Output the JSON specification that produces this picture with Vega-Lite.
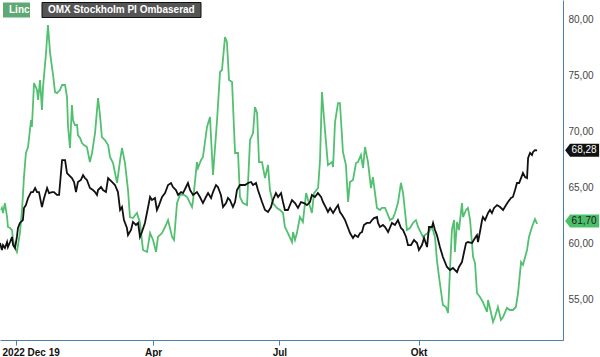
{
  "$schema": "https://vega.github.io/schema/vega-lite/v6.json",
  "width": 563,
  "height": 340,
  "autosize": {"type": "none"},
  "padding": {"left": 0, "top": 0, "right": 37, "bottom": 17},
  "background": "white",
  "config": {"view": {"stroke": null}, "font": "Liberation Sans"},
  "datasets": {
    "linc": [
      {"day":0.5,"v":62.95},{"day":0.9,"v":63.13},{"day":1.4,"v":62.68},{"day":2.3,"v":63.57},{"day":3.3,"v":62.32},{"day":3.7,"v":61.43},{"day":4.7,"v":61.34},{"day":5.6,"v":61.16},{"day":6.1,"v":60.27},{"day":7.0,"v":59.55},{"day":7.9,"v":59.2},{"day":8.4,"v":59.82},{"day":9.3,"v":60.89},{"day":10.3,"v":62.95},{"day":11.2,"v":65.89},{"day":12.1,"v":68.04},{"day":13.1,"v":68.57},{"day":14.5,"v":70.98},{"day":14.9,"v":70.36},{"day":15.9,"v":74.29},{"day":17.3,"v":73.66},{"day":17.8,"v":72.77},{"day":18.7,"v":74.55},{"day":19.6,"v":71.88},{"day":20.1,"v":73.93},{"day":21.5,"v":76.96},{"day":22.4,"v":79.46},{"day":23.4,"v":76.96},{"day":24.8,"v":75.0},{"day":25.7,"v":73.48},{"day":26.6,"v":73.39},{"day":28.0,"v":73.66},{"day":29.0,"v":74.11},{"day":30.4,"v":74.11},{"day":31.3,"v":73.04},{"day":31.8,"v":70.36},{"day":32.7,"v":68.48},{"day":33.6,"v":72.32},{"day":34.1,"v":70.98},{"day":35.0,"v":70.54},{"day":36.0,"v":70.54},{"day":36.4,"v":69.64},{"day":37.4,"v":69.38},{"day":38.3,"v":68.93},{"day":39.2,"v":68.75},{"day":40.6,"v":68.57},{"day":42.0,"v":67.23},{"day":43.0,"v":68.04},{"day":43.9,"v":69.2},{"day":44.4,"v":69.82},{"day":45.8,"v":72.95},{"day":46.7,"v":71.43},{"day":47.6,"v":69.46},{"day":49.0,"v":69.2},{"day":50.5,"v":68.75},{"day":51.4,"v":67.68},{"day":52.8,"v":67.14},{"day":54.7,"v":65.36},{"day":56.1,"v":67.41},{"day":57.0,"v":68.48},{"day":58.4,"v":67.14},{"day":59.8,"v":64.73},{"day":60.7,"v":62.32},{"day":62.1,"v":62.23},{"day":64.0,"v":62.68},{"day":65.4,"v":61.79},{"day":66.8,"v":59.38},{"day":68.7,"v":59.2},{"day":70.1,"v":60.89},{"day":71.5,"v":60.27},{"day":72.9,"v":59.2},{"day":73.8,"v":60.54},{"day":75.7,"v":60.89},{"day":77.1,"v":61.43},{"day":78.5,"v":62.05},{"day":80.4,"v":60.54},{"day":81.3,"v":60.27},{"day":82.7,"v":63.57},{"day":84.1,"v":64.29},{"day":86.0,"v":64.29},{"day":87.4,"v":64.11},{"day":88.8,"v":63.57},{"day":89.7,"v":63.21},{"day":90.2,"v":63.84},{"day":92.0,"v":67.23},{"day":92.5,"v":66.7},{"day":93.9,"v":67.41},{"day":94.8,"v":67.68},{"day":96.7,"v":70.36},{"day":98.1,"v":71.25},{"day":99.5,"v":66.07},{"day":101.4,"v":70.98},{"day":102.8,"v":75.27},{"day":103.7,"v":75.45},{"day":105.1,"v":78.39},{"day":106.0,"v":77.95},{"day":107.0,"v":74.55},{"day":108.4,"v":74.38},{"day":109.8,"v":68.04},{"day":111.2,"v":68.04},{"day":112.1,"v":64.11},{"day":113.5,"v":63.57},{"day":115.4,"v":63.39},{"day":116.8,"v":69.2},{"day":118.2,"v":69.82},{"day":119.1,"v":72.14},{"day":120.1,"v":71.61},{"day":121.0,"v":67.23},{"day":122.4,"v":67.23},{"day":123.8,"v":65.8},{"day":125.2,"v":66.96},{"day":126.1,"v":64.73},{"day":127.5,"v":63.57},{"day":129.4,"v":63.13},{"day":130.8,"v":62.95},{"day":132.2,"v":62.68},{"day":133.1,"v":61.43},{"day":134.5,"v":60.89},{"day":136.4,"v":60.09},{"day":136.9,"v":60.98},{"day":137.8,"v":60.27},{"day":138.7,"v":60.89},{"day":140.1,"v":62.32},{"day":141.5,"v":61.88},{"day":143.0,"v":64.46},{"day":143.9,"v":63.84},{"day":145.7,"v":62.68},{"day":146.7,"v":64.46},{"day":148.6,"v":64.91},{"day":149.5,"v":67.41},{"day":150.4,"v":73.48},{"day":151.8,"v":70.09},{"day":153.2,"v":66.96},{"day":155.1,"v":67.23},{"day":155.6,"v":66.79},{"day":156.5,"v":70.8},{"day":157.9,"v":72.5},{"day":158.8,"v":72.5},{"day":160.2,"v":68.13},{"day":161.6,"v":66.96},{"day":162.6,"v":63.66},{"day":163.5,"v":65.45},{"day":164.9,"v":65.63},{"day":166.3,"v":67.14},{"day":167.2,"v":67.23},{"day":168.6,"v":67.86},{"day":169.6,"v":66.7},{"day":170.5,"v":68.57},{"day":171.9,"v":67.23},{"day":173.3,"v":64.91},{"day":174.2,"v":65.89},{"day":176.1,"v":63.13},{"day":177.5,"v":62.95},{"day":178.4,"v":63.13},{"day":179.9,"v":63.13},{"day":182.2,"v":62.05},{"day":183.6,"v":62.23},{"day":184.5,"v":62.68},{"day":185.9,"v":63.57},{"day":187.3,"v":65.36},{"day":188.3,"v":64.46},{"day":190.1,"v":61.16},{"day":191.5,"v":61.34},{"day":192.9,"v":61.79},{"day":194.3,"v":62.05},{"day":195.3,"v":61.43},{"day":196.7,"v":60.89},{"day":197.6,"v":60.54},{"day":198.5,"v":60.71},{"day":199.9,"v":60.89},{"day":201.8,"v":61.43},{"day":203.2,"v":60.54},{"day":204.1,"v":58.48},{"day":205.1,"v":56.96},{"day":206.9,"v":54.46},{"day":208.3,"v":54.29},{"day":209.3,"v":53.75},{"day":210.2,"v":57.59},{"day":211.1,"v":61.16},{"day":212.1,"v":62.05},{"day":212.5,"v":59.2},{"day":213.5,"v":61.88},{"day":214.4,"v":61.16},{"day":215.8,"v":63.57},{"day":216.3,"v":62.32},{"day":217.7,"v":62.95},{"day":218.6,"v":63.13},{"day":219.6,"v":62.05},{"day":221.0,"v":58.75},{"day":221.9,"v":58.21},{"day":222.8,"v":55.54},{"day":224.2,"v":55.18},{"day":225.6,"v":54.73},{"day":227.5,"v":53.84},{"day":228.0,"v":54.91},{"day":229.4,"v":53.75},{"day":230.3,"v":52.95},{"day":231.2,"v":53.39},{"day":232.6,"v":54.29},{"day":234.0,"v":53.13},{"day":235.0,"v":53.39},{"day":236.8,"v":54.2},{"day":238.2,"v":54.02},{"day":239.6,"v":54.02},{"day":241.0,"v":54.29},{"day":242.0,"v":55.54},{"day":243.4,"v":58.3},{"day":244.3,"v":58.04},{"day":246.2,"v":59.38},{"day":247.1,"v":60.54},{"day":248.5,"v":61.43},{"day":249.9,"v":62.14},{"day":250.9,"v":61.7}
    ],
    "omx": [
      {"day":0.0,"v":60.0},{"day":0.9,"v":59.38},{"day":1.4,"v":59.82},{"day":2.3,"v":59.55},{"day":3.3,"v":60.09},{"day":3.7,"v":59.64},{"day":4.7,"v":60.09},{"day":5.6,"v":60.54},{"day":6.1,"v":59.82},{"day":7.0,"v":59.55},{"day":7.9,"v":60.54},{"day":8.4,"v":61.34},{"day":9.3,"v":61.79},{"day":10.7,"v":62.05},{"day":11.2,"v":63.13},{"day":12.1,"v":63.39},{"day":13.1,"v":64.02},{"day":14.5,"v":64.55},{"day":15.4,"v":64.55},{"day":16.4,"v":64.91},{"day":17.3,"v":64.55},{"day":18.2,"v":64.55},{"day":19.6,"v":63.21},{"day":20.6,"v":64.02},{"day":22.0,"v":64.91},{"day":22.9,"v":64.46},{"day":24.3,"v":64.55},{"day":25.2,"v":64.55},{"day":26.6,"v":64.29},{"day":27.6,"v":64.29},{"day":29.0,"v":67.41},{"day":30.4,"v":67.41},{"day":31.3,"v":66.25},{"day":32.2,"v":66.07},{"day":33.6,"v":65.8},{"day":34.6,"v":65.45},{"day":35.5,"v":64.55},{"day":36.4,"v":65.45},{"day":37.8,"v":65.63},{"day":38.8,"v":66.07},{"day":39.7,"v":65.8},{"day":40.6,"v":65.63},{"day":42.0,"v":64.91},{"day":43.4,"v":64.73},{"day":44.4,"v":64.55},{"day":45.3,"v":64.29},{"day":45.8,"v":64.73},{"day":47.2,"v":65.0},{"day":48.1,"v":64.73},{"day":49.5,"v":64.55},{"day":50.5,"v":65.8},{"day":52.3,"v":65.45},{"day":53.7,"v":65.18},{"day":55.1,"v":64.55},{"day":56.1,"v":62.95},{"day":57.0,"v":63.21},{"day":57.9,"v":62.05},{"day":59.3,"v":61.34},{"day":59.8,"v":60.71},{"day":61.2,"v":61.16},{"day":62.1,"v":61.88},{"day":63.5,"v":61.61},{"day":64.5,"v":61.79},{"day":65.4,"v":60.54},{"day":66.3,"v":60.98},{"day":67.7,"v":61.79},{"day":69.1,"v":63.13},{"day":70.1,"v":64.11},{"day":71.0,"v":63.84},{"day":72.4,"v":64.02},{"day":73.3,"v":62.95},{"day":74.3,"v":63.39},{"day":75.7,"v":64.11},{"day":77.1,"v":64.46},{"day":78.5,"v":65.18},{"day":79.9,"v":65.36},{"day":80.8,"v":65.0},{"day":82.2,"v":64.73},{"day":83.2,"v":64.29},{"day":84.6,"v":64.55},{"day":85.5,"v":64.46},{"day":86.9,"v":65.0},{"day":87.8,"v":65.36},{"day":88.8,"v":64.73},{"day":90.2,"v":64.29},{"day":92.0,"v":64.55},{"day":93.4,"v":64.11},{"day":94.8,"v":63.57},{"day":96.2,"v":64.11},{"day":97.2,"v":64.46},{"day":98.6,"v":64.02},{"day":99.5,"v":64.55},{"day":100.9,"v":65.18},{"day":101.8,"v":65.0},{"day":103.2,"v":64.29},{"day":104.2,"v":63.21},{"day":105.6,"v":63.57},{"day":106.5,"v":64.02},{"day":107.4,"v":63.84},{"day":108.8,"v":63.21},{"day":109.8,"v":63.66},{"day":110.7,"v":64.73},{"day":112.1,"v":65.18},{"day":113.5,"v":65.18},{"day":114.5,"v":65.18},{"day":115.9,"v":65.36},{"day":117.3,"v":65.45},{"day":118.2,"v":65.18},{"day":119.6,"v":65.36},{"day":120.5,"v":64.73},{"day":122.4,"v":63.66},{"day":123.8,"v":62.95},{"day":125.2,"v":62.77},{"day":126.6,"v":63.21},{"day":127.5,"v":63.84},{"day":128.9,"v":64.46},{"day":129.9,"v":64.11},{"day":131.3,"v":64.46},{"day":132.2,"v":63.66},{"day":133.1,"v":62.95},{"day":134.5,"v":62.95},{"day":136.4,"v":63.84},{"day":137.8,"v":63.57},{"day":139.2,"v":63.13},{"day":140.6,"v":63.66},{"day":142.0,"v":63.57},{"day":143.4,"v":63.39},{"day":144.8,"v":63.66},{"day":145.7,"v":64.29},{"day":147.1,"v":64.11},{"day":148.5,"v":64.46},{"day":150.0,"v":64.11},{"day":150.9,"v":63.66},{"day":152.3,"v":63.13},{"day":153.2,"v":62.77},{"day":154.2,"v":63.13},{"day":155.6,"v":62.68},{"day":157.0,"v":63.13},{"day":157.9,"v":63.39},{"day":158.8,"v":62.77},{"day":159.8,"v":62.5},{"day":161.2,"v":62.05},{"day":162.6,"v":61.34},{"day":163.5,"v":60.89},{"day":164.9,"v":60.45},{"day":165.8,"v":60.71},{"day":167.2,"v":60.54},{"day":168.2,"v":60.89},{"day":169.1,"v":60.98},{"day":170.0,"v":61.61},{"day":171.4,"v":61.79},{"day":172.8,"v":61.79},{"day":173.8,"v":62.05},{"day":174.7,"v":62.23},{"day":176.1,"v":62.32},{"day":176.6,"v":61.79},{"day":177.5,"v":61.43},{"day":178.9,"v":61.61},{"day":179.9,"v":61.43},{"day":181.3,"v":60.98},{"day":183.1,"v":61.79},{"day":184.5,"v":61.61},{"day":185.9,"v":62.05},{"day":187.3,"v":61.34},{"day":188.3,"v":61.16},{"day":189.7,"v":60.54},{"day":190.6,"v":59.82},{"day":192.0,"v":59.82},{"day":193.4,"v":60.27},{"day":194.8,"v":60.0},{"day":195.7,"v":59.38},{"day":197.1,"v":59.82},{"day":198.1,"v":60.45},{"day":199.5,"v":59.64},{"day":200.4,"v":61.43},{"day":201.8,"v":61.43},{"day":202.3,"v":61.79},{"day":203.2,"v":61.16},{"day":204.1,"v":60.71},{"day":205.5,"v":59.64},{"day":206.9,"v":58.75},{"day":208.8,"v":57.86},{"day":210.2,"v":57.59},{"day":211.6,"v":57.77},{"day":213.5,"v":57.41},{"day":214.4,"v":57.86},{"day":215.8,"v":58.3},{"day":216.8,"v":59.2},{"day":217.7,"v":60.0},{"day":218.6,"v":60.09},{"day":220.5,"v":60.0},{"day":221.9,"v":60.45},{"day":222.8,"v":60.71},{"day":223.3,"v":60.09},{"day":224.2,"v":60.98},{"day":225.2,"v":62.05},{"day":225.6,"v":62.32},{"day":226.6,"v":62.05},{"day":228.0,"v":62.68},{"day":228.9,"v":62.95},{"day":229.8,"v":62.68},{"day":230.8,"v":63.13},{"day":232.2,"v":63.39},{"day":233.6,"v":63.21},{"day":235.0,"v":62.95},{"day":236.4,"v":63.39},{"day":237.3,"v":63.66},{"day":238.7,"v":64.02},{"day":239.6,"v":64.11},{"day":240.6,"v":64.73},{"day":241.5,"v":65.36},{"day":242.5,"v":65.36},{"day":243.4,"v":65.8},{"day":244.3,"v":66.25},{"day":245.3,"v":65.89},{"day":246.2,"v":65.8},{"day":246.7,"v":67.59},{"day":247.6,"v":68.04},{"day":248.5,"v":67.86},{"day":249.0,"v":68.13},{"day":249.9,"v":68.3},{"day":250.9,"v":68.28}
    ]
  },
  "encoding": {
    "x": {
      "field": "day",
      "type": "quantitative",
      "scale": {"domain": [0, 263], "nice": false, "zero": false},
      "axis": {
        "values": [7.5, 71.5, 130.5, 195.5],
        "labelExpr": "datum.value < 20 ? '2022 Dec 19' : datum.value < 100 ? 'Apr' : datum.value < 150 ? 'Jul' : 'Okt'",
        "title": null,
        "grid": false,
        "domainColor": "#4a7fae",
        "tickColor": "#4a7fae",
        "tickSize": 5,
        "labelFont": "Liberation Sans",
        "labelFontSize": 10,
        "labelFontWeight": "bold",
        "labelColor": "#111111",
        "labelPadding": 2,
        "labelFlush": 20,
        "labelFlushOffset": 14,
        "labelOverlap": false,
        "labelBound": false
      }
    },
    "y": {
      "field": "v",
      "type": "quantitative",
      "scale": {"domain": [51.34, 81.7], "nice": false, "zero": false},
      "axis": {
        "orient": "right",
        "values": [55, 60, 65, 70, 75, 80],
        "labelExpr": "replace(format(datum.value, '.2f'), '.', ',')",
        "title": null,
        "grid": false,
        "ticks": false,
        "tickSize": 0,
        "domainColor": "#4a7fae",
        "labelPadding": 5,
        "labelFont": "Liberation Sans",
        "labelFontSize": 10,
        "labelColor": "#444444"
      }
    }
  },
  "resolve": {"scale": {"color": "independent"}, "legend": {"color": "independent"}},
  "layer": [
    {
      "data": {"name": "linc"},
      "mark": {"type": "line", "strokeWidth": 1.8},
      "encoding": {
        "color": {
          "datum": "Linc",
          "type": "nominal",
          "scale": {"domain": ["Linc"], "range": ["#52c070"]},
          "legend": {
            "title": null,
            "orient": "none",
            "legendX": -3,
            "legendY": 5,
            "padding": 0,
            "symbolSize": 4,
            "symbolStrokeWidth": 0,
            "symbolOffset": 2,
            "symbolType": "M-1,-7.5H26V7.5H-1Z",
            "symbolFillColor": "#5ea873",
            "symbolStrokeColor": "#5ea873",
            "symbolOpacity": 1,
            "labelOffset": 0,
            "labelColor": "white",
            "labelFont": "Liberation Sans",
            "labelFontSize": 10,
            "labelFontWeight": "bold"
          }
        }
      }
    },
    {
      "data": {"name": "omx"},
      "mark": {"type": "line", "strokeWidth": 1.8},
      "encoding": {
        "color": {
          "datum": "OMX Stockholm PI Ombaserad",
          "type": "nominal",
          "scale": {"domain": ["OMX Stockholm PI Ombaserad"], "range": ["#111111"]},
          "legend": {
            "title": null,
            "orient": "none",
            "legendX": 36,
            "legendY": 5,
            "padding": 0,
            "symbolSize": 4,
            "symbolStrokeWidth": 1,
            "symbolOffset": 2,
            "symbolType": "M-1,-7.5H158V7.5H-1Z",
            "symbolFillColor": "#555555",
            "symbolStrokeColor": "#222222",
            "symbolOpacity": 1,
            "labelOffset": 0,
            "labelColor": "white",
            "labelFont": "Liberation Sans",
            "labelFontSize": 10,
            "labelFontWeight": "bold"
          }
        }
      }
    },
    {
      "data": {"name": "omx"},
      "transform": [
        {"joinaggregate": [{"op": "max", "field": "day", "as": "last"}]},
        {"filter": "datum.day == datum.last"},
        {"calculate": "replace(format(datum.v, '.2f'), '.', ',')", "as": "lbl"}
      ],
      "layer": [
        {"mark": {"type": "point", "shape": "M0,0L5,-6.5H34V6.5H5Z", "size": 4, "filled": true, "color": "#111111", "opacity": 1, "strokeWidth": 0, "xOffset": 28}},
        {"mark": {"type": "text", "xOffset": 47, "color": "white", "fontSize": 10, "font": "Liberation Sans"}, "encoding": {"text": {"field": "lbl"}}}
      ]
    },
    {
      "data": {"name": "linc"},
      "transform": [
        {"joinaggregate": [{"op": "max", "field": "day", "as": "last"}]},
        {"filter": "datum.day == datum.last"},
        {"calculate": "replace(format(datum.v, '.2f'), '.', ',')", "as": "lbl"}
      ],
      "layer": [
        {"mark": {"type": "point", "shape": "M0,0L5,-6.5H34V6.5H5Z", "size": 4, "filled": true, "color": "#4cbf6a", "opacity": 1, "strokeWidth": 0, "xOffset": 28, "yOffset": -3}},
        {"mark": {"type": "text", "xOffset": 47, "yOffset": -3, "color": "#1a1a1a", "fontSize": 10, "font": "Liberation Sans"}, "encoding": {"text": {"field": "lbl"}}}
      ]
    }
  ]
}
